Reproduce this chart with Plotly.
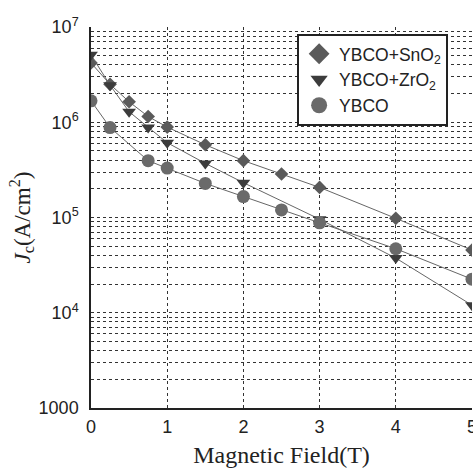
import plotly.graph_objects as go

field_sno2 = [0, 0.25, 0.5, 0.75, 1, 1.5, 2, 2.5, 3, 4, 5]
jc_sno2 = [4.2e6, 2.5e6, 1.64e6, 1.15e6, 8.9e5, 5.8e5, 3.95e5, 2.86e5, 2.07e5, 9.8e4, 4.55e4]

field_zro2 = [0, 0.25, 0.5, 0.75, 1, 1.5, 2, 3, 4, 5]
jc_zro2 = [5.1e6, 2.45e6, 1.29e6, 8.8e5, 6.1e5, 3.7e5, 2.32e5, 9.6e4, 3.75e4, 1.2e4]

field_ybco = [0, 0.25, 0.75, 1, 1.5, 2, 2.5, 3, 4, 5]
jc_ybco = [1.68e6, 8.8e5, 3.95e5, 3.3e5, 2.28e5, 1.66e5, 1.2e5, 8.8e4, 4.7e4, 2.25e4]

series_names = ["YBCO+SnO<sub>2</sub>", "YBCO+ZrO<sub>2</sub>", "YBCO"]

x_ticks = [0, 1, 2, 3, 4, 5]
y_ticks = [1e3, 1e4, 1e5, 1e6, 1e7]
y_ticktext = ["1000", "10<sup>4</sup>", "10<sup>5</sup>", "10<sup>6</sup>", "10<sup>7</sup>"]
y_minor = [m * 10 ** e for e in range(3, 7) for m in range(2, 10)]

styles = [
    dict(symbol="diamond", size=10.5, legend_size=16, color="#5a5a5a"),
    dict(symbol="triangle-down", size=12, legend_size=15, color="#3c3c3c"),
    dict(symbol="circle", size=13, legend_size=16, color="#6a6a6a"),
]
data = [(field_sno2, jc_sno2), (field_zro2, jc_zro2), (field_ybco, jc_ybco)]

fig = go.Figure()
for (xs, ys), name, st in zip(data, series_names, styles):
    fig.add_trace(go.Scatter(x=xs, y=ys, mode="lines+markers", name=name, showlegend=False,
                             line=dict(color="#666666", width=1),
                             marker=dict(symbol=st["symbol"], size=st["size"], color=st["color"])))
for name, st in zip(series_names, styles):
    fig.add_trace(go.Scatter(x=[None], y=[None], mode="markers", name=name, showlegend=True,
                             marker=dict(symbol=st["symbol"], size=st["legend_size"], color=st["color"])))

axis_common = dict(showline=True, linecolor="#222222", linewidth=1.5,
                   showgrid=True, gridcolor="#333333", gridwidth=1, griddash="dot",
                   zeroline=False, automargin=False, ticklabeloverflow="allow",
                   ticks="outside", tickcolor="rgba(0,0,0,0)",
                   tickfont=dict(family="Liberation Sans", size=18, color="#222222"))

fig.update_layout(
    width=473, height=468, autosize=False,
    margin=dict(l=91, r=1, t=27, b=60),
    plot_bgcolor="white", paper_bgcolor="white",
    font=dict(family="Liberation Sans", size=18, color="#222222"),
    showlegend=True,
    legend=dict(x=0.541, y=0.982, xanchor="left", yanchor="top",
                bgcolor="white", bordercolor="#222222", borderwidth=2,
                font=dict(family="Liberation Sans", size=17.5, color="#222222"),
                tracegroupgap=0, itemsizing="trace"),
    xaxis=dict(range=[0, 5], tickvals=x_ticks, ticklen=2,
               title=dict(text="Magnetic Field(T)", font=dict(family="Liberation Serif", size=24, color="#222222"),
                          standoff=10),
               **axis_common),
    yaxis=dict(type="log", range=[3, 7], tickvals=y_ticks, ticktext=y_ticktext, ticklen=7,
               minor=dict(tickvals=y_minor, showgrid=True, gridcolor="#333333", gridwidth=1, griddash="dot", ticks=""),
               title=dict(text="<i>J</i><sub>c</sub>(A/cm<sup>2</sup>)",
                          font=dict(family="Liberation Serif", size=23, color="#222222"), standoff=2),
               **axis_common),
)

post = ("document.documentElement.style.margin='0';document.documentElement.style.overflow='hidden';"
        "document.body.style.margin='0';document.body.style.padding='0';document.body.style.overflow='hidden';")

fig.write_html("out.html", config={"responsive": False, "displayModeBar": False}, post_script=post)
